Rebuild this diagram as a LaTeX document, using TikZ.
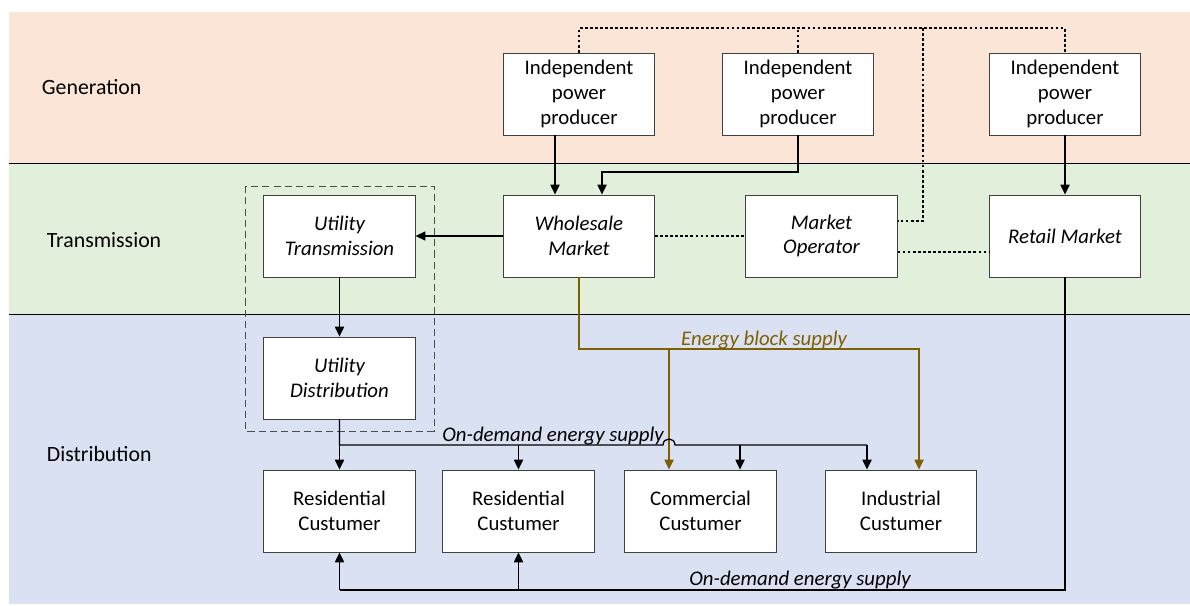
\documentclass[tikz,border=0pt]{standalone}
\usepackage{fontspec}
\setmainfont{Carlito}
\usetikzlibrary{arrows.meta}

\definecolor{genfill}{RGB}{251,229,214}
\definecolor{trafill}{RGB}{226,239,218}
\definecolor{disfill}{RGB}{218,225,243}
\definecolor{blockcol}{RGB}{127,96,0}

\begin{document}
\begin{tikzpicture}[x=0.025cm, y=-0.025cm,
  box/.style = {draw=black!75, fill=white, line width=0.6pt, minimum width=3.78cm, minimum height=2.05cm,
    align=center, inner sep=1pt, font=\fontsize{14.8}{17.6}\selectfont},
  ibox/.style = {box, font=\fontsize{14.8}{17.6}\selectfont\itshape},
  band/.style = {anchor=west, font=\fontsize{15.5}{18}\selectfont},
  flow/.style = {-{Triangle[length=7pt,width=6.5pt]}, line width=0.9pt},
  link/.style = {line width=1pt, dash pattern=on 2pt off 1.6pt},
  tag/.style = {font=\fontsize{14.8}{17.6}\selectfont\itshape, inner sep=1pt},
  ]
  \useasboundingbox (0,0) rectangle (1190,605);

  % layers
  \fill[genfill] (9,12) rectangle (1190,163);
  \fill[trafill] (9,163) rectangle (1190,314);
  \fill[disfill] (9,314) rectangle (1190,604);
  \draw[line width=0.6pt] (9,163) -- (1190,163);
  \draw[line width=0.6pt] (9,314) -- (1190,314);

  \node[band] (gen) at (37,87) {Generation};
  \node[band] (tra) at (42,240) {Transmission};
  \node[band] (dis) at (42,454) {Distribution};

  % utility group
  \draw[draw=black!70, line width=0.6pt, dash pattern=on 5pt off 3pt] (245,186) rectangle (434,431);

  % boxes
  \node[box] (ippa) at (579,94) {Independent\\power\\producer};
  \node[box] (ippb) at (798,94) {Independent\\power\\producer};
  \node[box] (ippc) at (1065,94) {Independent\\power\\producer};

  \node[ibox] (utrans) at (339.5,236) {Utility\\Transmission};
  \node[ibox] (whole) at (579,236) {Wholesale\\Market};
  \node[ibox] (oper) at (821.5,236) {Market\\Operator};
  \node[ibox] (retail) at (1065,236) {Retail Market};
  \node[ibox] (udist) at (339.5,378) {Utility\\Distribution};

  \node[box] (resa) at (339.5,511) {Residential\\Custumer};
  \node[box] (resb) at (518.5,511) {Residential\\Custumer};
  \node[box] (comm) at (700.5,511) {Commercial\\Custumer};
  \node[box] (indu) at (901,511) {Industrial\\Custumer};

  % dotted links
  \draw[link] (ippa.north) -- (579,28) -- (1065,28) -- (ippc.north);
  \draw[link] (ippb.north) -- (798,28);
  \draw[link] (923,28) -- (923,221) -- (oper.east |- 0,221);
  \draw[link] (whole.east) -- (oper.west);
  \draw[link] (oper.east |- 0,252) -- (retail.west |- 0,252);

  % supply arrows
  \draw[flow] (ippa.south -| 555,0) -- (whole.north -| 555,0);
  \draw[flow] (ippb.south) -- (798,172) -- (602,172) -- (whole.north -| 602,0);
  \draw[flow] (ippc.south) -- (retail.north);
  \draw[flow] (whole.west) -- (utrans.east);
  \draw[flow] (utrans.south) -- (udist.north);

  % energy block supply
  \draw[flow, blockcol] (whole.south) -- (579,349) -- (919,349) -- (indu.north -| 919,0);
  \draw[flow, blockcol] (669,349) -- (comm.north -| 669,0);
  \node[tag, text=blockcol, anchor=base] (blk) at (764,345) {Energy block supply};

  % on-demand supply from utility
  \draw[line width=0.9pt] (udist.south) -- (339.5,445) -- (663,445)
    .. controls (663,437) and (675,437) .. (675,445) -- (867,445);
  \draw[flow] (339.5,445) -- (resa.north);
  \draw[flow] (518.5,445) -- (resb.north);
  \draw[flow] (740,445) -- (comm.north -| 740,0);
  \draw[flow] (867,445) -- (indu.north -| 867,0);
  \node[tag, anchor=base] (demu) at (553,441) {On-demand energy supply};

  % on-demand supply from retail
  \draw[line width=0.9pt] (retail.south) -- (1065,590) -- (339.5,590);
  \draw[flow] (339.5,590) -- (resa.south);
  \draw[flow] (518.5,590) -- (resb.south);
  \node[tag, anchor=base] (demr) at (800,585) {On-demand energy supply};
\end{tikzpicture}
\end{document}
